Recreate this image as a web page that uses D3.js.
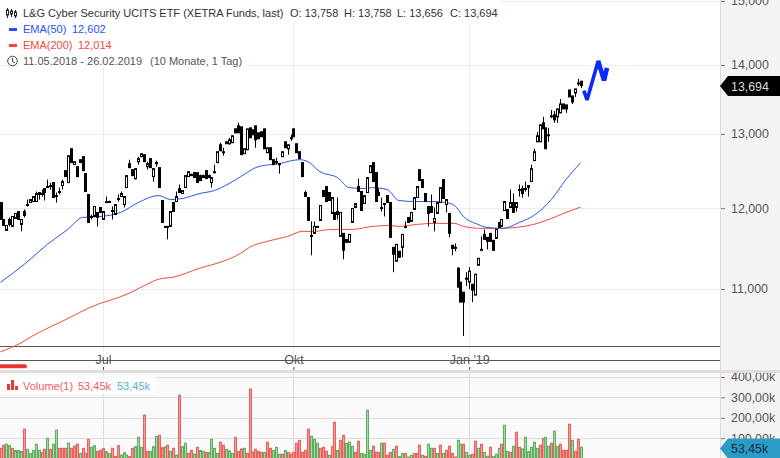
<!DOCTYPE html>
<html><head><meta charset="utf-8">
<script src="https://cdn.jsdelivr.net/npm/d3@7"></script>
<style>
html,body{margin:0;padding:0;background:#fff;overflow:hidden}
svg{display:block}
text{font-family:"Liberation Sans",Arial,sans-serif}
</style></head><body><div id="chart"></div>
<script>
const open=[12073,11855,11716,11855,11767,11868,11957,11792,11957,12047,
12073,12086,12086,12178,12191,12256,12283,12296,12335,12164,
12217,12296,12495,12335,12793,12576,12549,12643,12684,12455,
12178,11893,11893,11945,12009,11855,12086,12086,11970,11919,
12125,12151,12047,12269,12589,12508,12388,12616,12684,12711,
12549,12657,12415,12603,12535,12099,11767,11767,11767,12073,
12086,12256,12191,12269,12415,12442,12468,12468,12428,12428,
12495,12428,12335,12481,12603,12848,12752,12862,12862,12876,
13070,13112,13098,12725,12779,13084,13056,13112,13014,13028,
13070,12738,12807,12643,12616,12589,12684,12889,12793,12945,
13070,12862,12752,12603,12204,12138,11654,11679,11754,11842,
12230,12283,12204,11932,11945,11957,11641,11679,11604,11567,
11817,12009,12283,12217,12060,12204,12468,12603,12468,12204,
12009,12060,12164,12073,11505,11334,11456,11505,11767,11881,
11830,11983,12138,12508,12375,12191,12022,12022,11817,11932,
12073,12375,12047,11932,11530,11492,11249,11081,10963,11129,
11081,11057,10928,11285,11480,11666,11629,11679,11592,11616,
11817,11767,11970,11983,12009,12073,12009,12243,12256,12256,
12269,12349,12630,12889,12889,13155,13084,12986,13240,13268,
13240,13296,13425,13411,13629,13541,13585,13732,13758];
const high=[12073,11855,11779,11881,11893,11932,11957,11855,11983,12112,
12112,12151,12217,12204,12243,12256,12375,12335,12335,12204,
12269,12375,12495,12697,12793,12616,12549,12643,12684,12455,
12178,11919,12022,11945,12009,11957,12151,12099,12022,12047,
12178,12217,12151,12428,12643,12508,12522,12684,12725,12711,
12616,12657,12522,12630,12535,12099,11767,11767,11957,12073,
12217,12309,12230,12428,12481,12455,12468,12468,12442,12442,
12495,12442,12402,12576,12752,12876,12807,12889,12945,12973,
13070,13155,13098,12793,13070,13084,13056,13112,13014,13028,
13070,12807,12807,12643,12670,12589,12752,12889,12848,12986,
13070,12862,12752,12603,12230,12138,11830,11830,11767,12035,
12230,12283,12204,12138,11945,12138,11945,11679,11604,11666,
11996,12060,12388,12217,12164,12402,12562,12603,12468,12256,
12138,12060,12164,12073,11505,11542,11456,11666,11830,11881,
11945,12138,12283,12508,12375,12191,12022,12178,12009,12073,
12269,12375,12112,11932,11530,11554,11261,11081,10963,11201,
11261,11057,11177,11370,11641,11729,11629,11679,11592,11729,
11817,11855,12086,11983,12243,12191,12073,12309,12296,12349,
12296,12576,12793,13028,13127,13240,13084,13084,13339,13325,
13353,13498,13425,13411,13629,13541,13644,13791,13758];
const low=[11855,11779,11716,11767,11767,11868,11855,11704,11881,12022,
12073,12086,12086,12112,12151,12099,12269,12243,12138,12073,
12178,12243,12415,12335,12603,12576,12415,12603,12495,12217,
11817,11855,11893,11767,11945,11855,12073,12073,11855,11919,
12086,12151,12009,12269,12535,12428,12375,12576,12684,12616,
12508,12535,12349,12549,12269,11817,11754,11604,11767,11957,
12086,12204,12191,12269,12415,12428,12402,12335,12362,12402,
12388,12402,12269,12455,12603,12765,12697,12862,12848,12876,
13014,13014,12711,12725,12779,12945,12986,12807,12931,12959,
12793,12738,12643,12576,12576,12455,12684,12807,12711,12903,
12959,12738,12657,12415,12151,11842,11407,11679,11754,11842,
12151,12086,12099,11932,11855,11855,11641,11358,11567,11567,
11817,12009,12217,11970,12060,12204,12468,12349,12086,12164,
11957,11893,12073,11629,11201,11334,11382,11382,11742,11817,
11830,11983,12138,12362,12269,12086,11767,11945,11704,11932,
12073,12125,11945,11629,11407,11456,11022,10846,10458,11034,
10998,10846,10928,11285,11468,11604,11480,11579,11468,11616,
11754,11767,11970,11868,12009,11945,11957,12151,12138,12217,
12151,12349,12630,12889,12889,13070,12793,12889,13225,13155,
13155,13296,13353,13296,13527,13425,13527,13688,13656];
const close=[11855,11779,11779,11792,11893,11932,11855,11855,11906,12035,
12112,12151,12191,12204,12178,12204,12269,12283,12138,12151,
12204,12349,12415,12697,12603,12616,12415,12603,12495,12217,
11817,11881,12022,11881,11945,11957,12073,12073,11957,12047,
12112,12191,12151,12428,12535,12428,12522,12657,12725,12616,
12589,12535,12522,12589,12269,11817,11754,11754,11957,11957,
12151,12204,12230,12428,12481,12428,12402,12335,12362,12402,
12388,12402,12402,12468,12752,12765,12738,12889,12917,12973,
13014,13014,12711,12793,13070,12945,12986,12917,12931,12959,
12793,12807,12643,12576,12603,12576,12752,12807,12848,12931,
12959,12738,12657,12415,12151,11842,11641,11767,11767,12035,
12151,12086,12099,12138,11855,11919,11945,11468,11567,11666,
11996,12060,12217,11970,12164,12402,12562,12349,12086,12164,
11996,12047,12073,11629,11419,11542,11382,11666,11754,11817,
11945,12138,12283,12362,12269,12086,11932,11945,11868,12073,
12269,12125,12112,11679,11492,11505,11022,10846,10846,11117,
11213,10986,11177,11370,11468,11604,11579,11579,11468,11729,
11754,11855,12086,11868,12073,11945,12073,12230,12191,12243,
12296,12522,12752,12973,13127,13070,12793,12973,13254,13197,
13353,13425,13353,13353,13527,13454,13644,13717,13694];

const volume=[50,65,70,63,50,39,39,34,144,45,25,40,70,40,30,45,
99,45,70,139,50,50,50,75,50,61,70,25,50,25,94,55,
63,35,40,48,34,25,50,9,63,17,29,17,9,50,58,104,
55,213,35,35,58,108,114,53,57,65,35,50,17,311,58,75,
25,39,22,55,39,35,30,29,94,50,25,80,65,45,37,25,
104,35,47,50,25,341,32,45,34,30,30,80,50,40,55,21,
21,40,30,21,30,75,89,30,40,144,109,94,75,50,55,35,
16,60,178,40,89,114,75,80,60,30,85,25,21,237,40,60,
30,30,75,75,16,30,45,60,9,25,25,7,16,25,25,65,
16,11,70,50,50,25,65,25,40,60,25,7,89,70,70,30,
16,21,85,50,70,30,11,55,11,21,50,70,163,35,30,60,
129,55,47,104,34,55,80,50,65,99,104,60,75,134,60,70,
40,40,168,89,35,94,55];
const volumeDir=["R","R","G","G","R","G","G","G","R","G","G","G","G","G","R","R",
"G","R","G","G","R","R","R","G","R","R","R","G","R","R","R","G",
"G","R","R","R","G","G","R","R","R","G","G","G","R","R","G","G",
"G","R","R","G","G","G","R","R","G","R","G","R","G","R","G","G",
"R","R","G","R","G","G","R","G","G","G","G","R","R","G","G","G",
"R","R","R","G","R","R","R","R","R","R","G","R","R","G","G","G",
"R","G","R","R","R","R","R","R","R","R","G","G","G","R","R","R",
"G","R","R","G","R","R","G","G","G","R","R","G","G","G","G","R",
"R","R","G","R","R","R","G","R","G","G","R","G","G","R","R","R",
"G","R","G","G","R","G","R","G","R","R","R","R","G","G","R","G",
"G","R","R","G","R","G","G","R","G","G","G","R","G","G","R","G",
"R","R","G","G","G","G","G","G","R","R","G","G","R","G","G","R",
"R","R","R","G","R","R"];

const ema50Index=[0,9,16,23,28,34,41,47,54,58,62,68,73,78,82,88,95,102,105,109,115,119,124,127,132,136,142,148,152,155,158,163,166,171,175,177,178,182,188,193,198];
const ema50Values=[11080,11322,11542,11729,11881,11893,11945,12073,12164,12112,12125,12191,12230,12322,12415,12549,12589,12643,12616,12481,12402,12269,12256,12269,12243,12099,12086,12086,12073,12035,11893,11792,11754,11742,11779,11817,11830,11906,12112,12375,12602];
const ema200Index=[0,7,11,24,30,44,50,54,59,68,76,82,85,91,98,103,107,113,120,127,133,136,142,148,155,158,164,171,176,182,188,193,198];
const ema200Values=[10280,10380,10458,10672,10776,10951,11057,11117,11141,11249,11334,11431,11505,11579,11641,11704,11704,11729,11729,11767,11779,11767,11792,11805,11805,11767,11742,11742,11754,11792,11868,11945,12014];
const forecastIndex=[199.1,200.2,204,206,207];
const forecastValues=[13620,13483,14060,13770,13955];

const priceTicks=[11000,12000,13000,14000,15000];
const volumeTicks=[100000,200000,300000,400000];
const timeTicks=[35,100,160];
const timeLabels=["Jul","Okt","Jan '19"];

const W=780,H=458,plotR=720;
const grey="#555";
const svg=d3.select("#chart").append("svg").attr("width",W).attr("height",H);
const x=d3.scaleLinear().domain([0,198]).range([0.5,580.6]);
const y=d3.scaleLog().domain([11000,14000]).range([289,65]);
const yV=d3.scaleLinear().domain([0,400000]).range([458.5,377]);

svg.append("rect").attr("x",0).attr("y",373).attr("width",plotR).attr("height",85).attr("fill","#fafafa");
svg.append("rect").attr("x",plotR).attr("y",0).attr("width",W-plotR).attr("height",H).attr("fill","#f3f3f3");

const gridP=svg.append("g");
gridP.selectAll("line.h").data(priceTicks).join("line").attr("class","h")
 .attr("x1",0).attr("x2",plotR).attr("y1",d=>Math.round(y(d))+.5).attr("y2",d=>Math.round(y(d))+.5)
 .attr("stroke","#ececec");
gridP.selectAll("line.v").data(timeTicks).join("line").attr("class","v")
 .attr("x1",d=>Math.round(x(d))+.5).attr("x2",d=>Math.round(x(d))+.5).attr("y1",0).attr("y2",366)
 .attr("stroke","#ececec");

const gridV=svg.append("g");
gridV.selectAll("line.h").data(volumeTicks).join("line").attr("class","h")
 .attr("x1",0).attr("x2",plotR).attr("y1",d=>Math.round(yV(d))+.5).attr("y2",d=>Math.round(yV(d))+.5)
 .attr("stroke","#dcdcdc");
gridV.selectAll("line.v").data(timeTicks).join("line").attr("class","v")
 .attr("x1",d=>Math.round(x(d))+.5).attr("x2",d=>Math.round(x(d))+.5).attr("y1",373).attr("y2",H)
 .attr("stroke","#dcdcdc");

[346.5,360.5].forEach(v=>svg.append("line").attr("x1",0).attr("x2",plotR).attr("y1",v).attr("y2",v).attr("stroke","#555").attr("stroke-width",1));
svg.append("line").attr("x1",-3).attr("x2",25).attr("y1",366.3).attr("y2",366.3).attr("stroke","#e5382e").attr("stroke-width",4).attr("stroke-linecap","round");

const ax=d3.axisTop(x).tickValues(timeTicks).tickFormat((d,i)=>timeLabels[i]).tickSize(3).tickPadding(3);
const gx=svg.append("g").attr("transform","translate(0,370)").call(ax);
gx.select(".domain").remove();
gx.selectAll("line").attr("stroke","#444");
gx.selectAll("text").attr("fill",grey).attr("font-size",12.5);

const lineOf=(xs,ys)=>d3.line().x((d,i)=>x(xs[i])).y((d,i)=>y(ys[i])).curve(d3.curveMonotoneX)(ys);
svg.append("path").attr("d",lineOf(ema200Index,ema200Values)).attr("fill","none").attr("stroke","#f4493c").attr("stroke-width",1);
svg.append("path").attr("d",lineOf(ema50Index,ema50Values)).attr("fill","none").attr("stroke","#2a55f0").attr("stroke-width",1);

const candles=d3.range(close.length);
const cx=i=>Math.round(x(i));
const cg=svg.append("g");
cg.selectAll("line").data(candles).join("line")
 .attr("x1",i=>cx(i)+.5).attr("x2",i=>cx(i)+.5)
 .attr("y1",i=>y(high[i])).attr("y2",i=>y(low[i]))
 .attr("stroke","#000").attr("stroke-width",1);
cg.selectAll("rect").data(candles).join("rect")
 .attr("x",i=>cx(i)-.5).attr("width",2)
 .attr("y",i=>y(Math.max(open[i],close[i])))
 .attr("height",i=>Math.max(.6,Math.abs(y(open[i])-y(close[i]))))
 .attr("fill",i=>close[i]>=open[i]?"#fff":"#000")
 .attr("stroke","#000").attr("stroke-width",1);

// Forecast arrow: the tail of the line is drawn heavier, as in the reference
const fLine=d3.line().x((d,i)=>x(forecastIndex[i])).y(d=>y(d));
svg.append("path").attr("d",fLine(forecastValues))
 .attr("fill","none").attr("stroke","#0b2cff").attr("stroke-width",3.6).attr("stroke-linejoin","bevel");
svg.append("path").attr("d",d3.line().x(d=>x(forecastIndex[d])).y(d=>y(forecastValues[d]))([2,3,4]))
 .attr("fill","none").attr("stroke","#0b2cff").attr("stroke-width",4.6).attr("stroke-linejoin","bevel");

const vg=svg.append("g");
vg.selectAll("rect").data(volume).join("rect")
 .attr("x",(d,i)=>Math.round(x(i))-.5).attr("width",2)
 .attr("y",d=>yV(d*1000)).attr("height",d=>yV(0)-yV(d*1000))
 .attr("fill",(d,i)=>volumeDir[i]==="R"?"#f79a96":"#a6d8a2")
 .attr("stroke",(d,i)=>volumeDir[i]==="R"?"#e8625d":"#5fae63").attr("stroke-width",1);

const fmtP=d=>d3.format(",.0f")(d);
const ayP=d3.axisRight(y).tickValues(priceTicks).tickFormat(fmtP).tickSize(5).tickPadding(6);
const gyP=svg.append("g").attr("transform",`translate(${plotR},0)`).call(ayP);
const ayV=d3.axisRight(yV).tickValues(volumeTicks).tickFormat(d=>(d/1000).toFixed(2).replace(".",",")+"k").tickSize(5).tickPadding(6);
const gyV=svg.append("g").attr("transform",`translate(${plotR},0)`).call(ayV);
[gyP,gyV].forEach(g=>{g.select(".domain").remove();g.selectAll("line").attr("stroke","#777");g.selectAll("text").attr("fill",grey).attr("font-size",12.4);});
svg.append("line").attr("x1",plotR+.5).attr("x2",plotR+.5).attr("y1",0).attr("y2",H).attr("stroke","#dcdcdc");
svg.append("rect").attr("x",0).attr("y",370).attr("width",W).attr("height",3).attr("fill","#dedede");

function tag(yc,fill,col,txt){
 svg.append("path").attr("d",`M720,${yc} L728,${yc-10} L780,${yc-10} L780,${yc+10} L728,${yc+10} Z`).attr("fill",fill);
 svg.append("text").attr("x",731).attr("y",yc+4.5).attr("fill",col).attr("font-size",12.4).text(txt);
}
tag(Math.round(y(close[close.length-1])),"#000","#ddd","13,694");
tag(448.5,"#2b9cc6","#0d2b3a","53,45k");

const lg=svg.append("g").attr("font-size",11);
lg.append("rect").attr("x",0).attr("y",0).attr("width",500).attr("height",23).attr("fill","#fff");
lg.append("rect").attr("x",0).attr("y",23).attr("width",20).attr("height",32).attr("fill","#fff");
lg.append("rect").attr("x",20).attr("y",23).attr("width",226).attr("height",44).attr("fill","#fff");
const t=(xp,yp,s,c)=>lg.append("text").attr("x",xp).attr("y",yp).attr("fill",c).text(s);
t(23,17,"L&G Cyber Security UCITS ETF (XETRA Funds, last)","#333");
t(290,17,"O: 13,758","#333");t(344,17,"H: 13,758","#333");t(397,17,"L: 13,656","#333");t(450,17,"C: 13,694","#333");
t(23,33,"EMA(50)","#2a50ff");t(72,33,"12,602","#2a50ff");
t(23,49,"EMA(200)","#f4493c");t(78,49,"12,014","#f4493c");
t(23,65,"11.05.2018 - 26.02.2019","#555");t(150,65,"(10 Monate, 1 Tag)","#555");
lg.append("rect").attr("x",9).attr("y",28).attr("width",8).attr("height",3).attr("fill","#2a50ff");
lg.append("rect").attr("x",9).attr("y",44).attr("width",8).attr("height",3).attr("fill","#f4493c");
lg.append("circle").attr("cx",12.5).attr("cy",61).attr("r",4.8).attr("fill","none").attr("stroke","#444");
lg.append("path").attr("d","M12.5,58 V61.5 L15,63").attr("fill","none").attr("stroke","#444");
[[7.5,8,18,10,15],[11.5,9,17,11,14],[15.5,10,18,12,16]].forEach(a=>{
 lg.append("line").attr("x1",a[0]).attr("x2",a[0]).attr("y1",a[1]).attr("y2",a[2]).attr("stroke","#222");
 lg.append("rect").attr("x",a[0]-1).attr("y",a[3]).attr("width",2).attr("height",a[4]-a[3]).attr("fill","#fff").attr("stroke","#222");
});
const lv=svg.append("g").attr("font-size",11);
lv.append("rect").attr("x",0).attr("y",376).attr("width",156).attr("height",18).attr("fill","#fff").attr("opacity",.85);
lv.append("text").attr("x",23).attr("y",390).attr("fill","#f0605a").text("Volume(1)");
lv.append("text").attr("x",78).attr("y",390).attr("fill","#f0605a").text("53,45k");
lv.append("text").attr("x",117).attr("y",390).attr("fill","#4fb0d8").text("53,45k");
[[7,384,3,6],[11,380,3,10],[15,386,3,4]].forEach(a=>lv.append("rect").attr("x",a[0]).attr("y",a[1]).attr("width",a[2]).attr("height",a[3]).attr("fill","#e5382e"));
</script></body></html>
